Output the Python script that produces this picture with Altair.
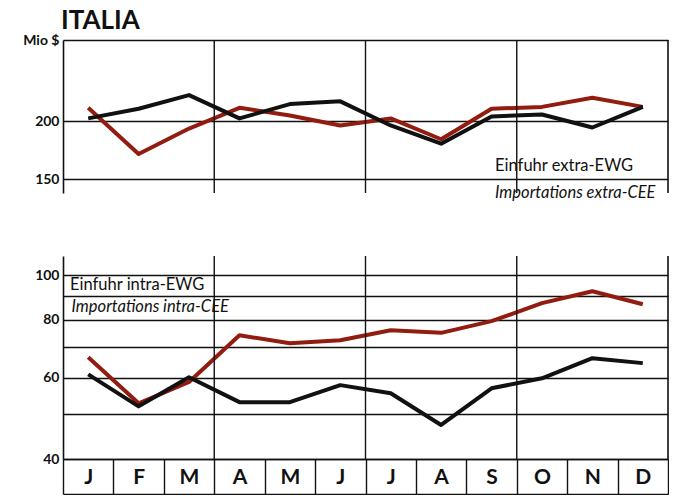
import altair as alt
import pandas as pd

months = ["Jan", "Feb", "Mar", "Apr", "May", "Jun", "Jul", "Aug", "Sep", "Oct", "Nov", "Dec"]
letters = ["J", "F", "M", "A", "M", "J", "J", "A", "S", "O", "N", "D"]

# Mio $ (log scale)
extra_red = [214, 170, 193, 214, 206, 196, 203, 183, 213, 215, 225, 215]
extra_black = [203, 213, 228, 203, 218, 221, 196, 179, 205, 207, 194, 215]
intra_red = [66.4, 52.8, 58.7, 74.1, 71.2, 72.3, 76.0, 75.0, 79.5, 87.0, 92.3, 86.5]
intra_black = [61.0, 52.0, 60.1, 53.1, 53.1, 57.8, 55.5, 47.4, 56.9, 59.8, 66.1, 64.5]

top_ticks = [300, 200, 150]
bottom_ticks = [100, 90, 80, 70, 60, 50, 40]
bottom_labels = [100, 80, 60, 40]
quarter_starts = ["Apr", "Jul", "Oct"]

RED = "#931c10"
BLACK = "#111111"
FONT = "Lato"
W = 605

def series_df(red, black):
    rows = []
    for m, v in zip(months, red):
        rows.append({"month": m, "value": v, "series": "red"})
    for m, v in zip(months, black):
        rows.append({"month": m, "value": v, "series": "black"})
    return pd.DataFrame(rows)

df_top = series_df(extra_red, extra_black)
df_bot = series_df(intra_red, intra_black)
df_q = pd.DataFrame({"month": quarter_starts})
df_end = pd.DataFrame({"month": [months[-1]]})

x_scale = alt.Scale(type="band", domain=months, paddingInner=0, paddingOuter=0)
color = alt.Color("series:N", scale=alt.Scale(domain=["red", "black"], range=[RED, BLACK]), legend=None)

common_axis = dict(
    grid=True, gridColor=BLACK, gridWidth=1.3, gridOpacity=1,
    domain=True, domainColor=BLACK, domainWidth=1.6,
    ticks=False, labelFont=FONT, labelFontWeight="bold", labelFontSize=14,
    labelColor=BLACK, labelPadding=4, minExtent=55, maxExtent=55, title=None,
    format="d",
)

def annot(df, style, band):
    d = df[df["style"] == style]
    return alt.Chart(d).mark_text(
        align="left", baseline="middle", font=FONT, fontSize=16.5, fontStyle=style, color=BLACK,
    ).encode(
        x=alt.X("month:N", scale=x_scale, axis=None, bandPosition=band),
        y=alt.Y("value:Q"),
        text="text:N",
    )

# ---------- top panel: extra-EWG ----------
top_scale = alt.Scale(type="log", domain=[140, 300], nice=False, zero=False)
top_axis = alt.Axis(values=top_ticks, labelExpr="datum.value == 300 ? 'Mio $' : datum.label", **common_axis)

ann_top = pd.DataFrame({
    "month": ["Sep", "Sep"],
    "value": [160, 140],
    "text": ["Einfuhr extra-EWG", "Importations extra-CEE"],
    "style": ["normal", "italic"],
})

top_lines = alt.Chart(df_top).mark_line(strokeWidth=4, strokeJoin="round").encode(
    x=alt.X("month:N", scale=x_scale, axis=None),
    y=alt.Y("value:Q", scale=top_scale, axis=top_axis),
    color=color,
    detail="series:N",
)
top_q = alt.Chart(df_q).mark_rule(color=BLACK, strokeWidth=1.4).encode(
    x=alt.X("month:N", scale=x_scale, axis=None, bandPosition=0)
)
top_e = alt.Chart(df_end).mark_rule(color=BLACK, strokeWidth=1.6).encode(
    x=alt.X("month:N", scale=x_scale, axis=None, bandPosition=1)
)

top = alt.layer(
    top_lines, top_q, top_e,
    annot(ann_top, "normal", 0.57), annot(ann_top, "italic", 0.57),
).properties(width=W, height=153)

# ---------- bottom panel: intra-EWG ----------
bot_scale = alt.Scale(type="log", domain=[40, 110], nice=False, zero=False)
bot_axis = alt.Axis(
    values=bottom_ticks,
    labelExpr="indexof(" + str(bottom_labels) + ", datum.value) >= 0 ? datum.label : ''",
    **common_axis,
)

letter_map = "{" + ",".join("'%s':'%s'" % (m, l) for m, l in zip(months, letters)) + "}"
strip_axis = alt.Axis(
    orient="bottom", tickBand="extent", ticks=True, tickSize=35, tickColor=BLACK, tickWidth=1.4,
    domain=True, domainColor=BLACK, domainWidth=1.6, grid=False,
    labelExpr=letter_map + "[datum.value]", labelFont=FONT, labelFontWeight="bold",
    labelFontSize=21, labelColor=BLACK, labelPadding=-17, labelBaseline="middle",
    labelAngle=0, labelOverlap=False, title=None,
)
bottom_border_axis = alt.Axis(
    orient="bottom", offset=35, domain=True, domainColor=BLACK, domainWidth=1.6,
    ticks=False, labels=False, grid=False, title=None,
)

ann_bot = pd.DataFrame({
    "month": ["Jan", "Jan"],
    "value": [95.1, 85.3],
    "text": ["Einfuhr intra-EWG", "Importations intra-CEE"],
    "style": ["normal", "italic"],
})

bot_lines = alt.Chart(df_bot).mark_line(strokeWidth=4, strokeJoin="round").encode(
    x=alt.X("month:N", scale=x_scale, axis=strip_axis),
    y=alt.Y("value:Q", scale=bot_scale, axis=bot_axis),
    color=color,
    detail="series:N",
)
bot_q = alt.Chart(df_q).mark_rule(color=BLACK, strokeWidth=1.4).encode(
    x=alt.X("month:N", scale=x_scale, axis=bottom_border_axis, bandPosition=0)
)
bot_e = alt.Chart(df_end).mark_rule(color=BLACK, strokeWidth=1.6).encode(
    x=alt.X("month:N", scale=x_scale, axis=None, bandPosition=1)
)

bottom = alt.layer(
    bot_lines, bot_q, bot_e,
    annot(ann_bot, "normal", 0.14), annot(ann_bot, "italic", 0.17),
).resolve_axis(x="independent").properties(width=W, height=203)

chart = alt.vconcat(top, bottom, spacing=63, bounds="flush").properties(
    padding=0,
    background="white",
    title=alt.TitleParams(
        "ITALIA", anchor="start", fontSize=26, font=FONT, fontWeight="bold", color=BLACK,
        offset=-1, dx=53,
    ),
).configure_view(stroke=None)

chart.save("out.html", embed_options={"renderer": "svg", "actions": False})
